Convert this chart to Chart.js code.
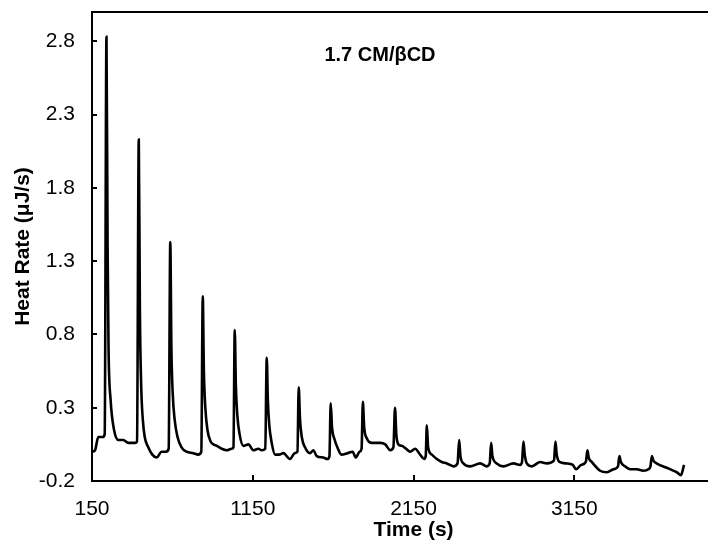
<!DOCTYPE html>
<html>
<head>
<meta charset="utf-8">
<script src="https://cdn.jsdelivr.net/npm/chart.js@4.4.1/dist/chart.umd.min.js"></script>
<style>
  html, body { margin: 0; padding: 0; background: #fff; overflow: hidden; }
  #wrap { width: 708px; height: 546px; overflow: hidden; }
</style>
</head>
<body>
<div id="wrap"><canvas id="myChart" width="740" height="546"></canvas></div>
<script>
const chart_title = '1.7 CM/βCD';

const time_s = [
  153, 169, 189, 217, 229, 240, 247, 253, 266, 287, 314, 345, 376, 418, 430,
  441, 448, 456, 466, 478, 500, 525, 552, 583, 610, 627,
  637, 644, 652, 664, 682, 707, 738, 780, 810, 830,
  839, 846, 855, 868, 888, 905, 926, 957, 988, 1019, 1030,
  1038, 1045, 1054, 1068, 1092, 1123, 1154, 1185, 1206, 1228,
  1237, 1244, 1253, 1268, 1289, 1315, 1340, 1381, 1412, 1428,
  1436, 1444, 1455, 1475, 1506, 1527, 1548, 1589, 1614, 1627,
  1635, 1643, 1660, 1680, 1701, 1740, 1772, 1790, 1815, 1827,
  1835, 1843, 1860, 1891, 1943, 1974, 2005, 2025,
  2035, 2043, 2056, 2077, 2104, 2129, 2160, 2191, 2216, 2226,
  2233, 2241, 2264, 2295, 2326, 2357, 2399, 2424,
  2434, 2442, 2461, 2502, 2565, 2606, 2624,
  2633, 2641, 2668, 2709, 2772, 2813, 2825,
  2834, 2842, 2855, 2886, 2938, 2979, 3024,
  3033, 3041, 3058, 3100, 3141, 3162, 3193, 3222,
  3232, 3240, 3259, 3311, 3353, 3394, 3422,
  3431, 3440, 3466, 3497, 3539, 3580, 3611, 3624,
  3633, 3642, 3662, 3725, 3787, 3814, 3833
];

const heat_rate = [
  0.00, 0.01, 0.10, 0.10, 0.12, 2.83, 1.40, 0.70, 0.35, 0.15, 0.08, 0.08, 0.06, 0.06, 0.07,
  2.13, 0.95, 0.45, 0.22, 0.10, 0.03, -0.02, -0.04, 0.00, 0.00, 0.02,
  1.43, 0.70, 0.40, 0.22, 0.10, 0.03, 0.00, -0.01, -0.02, 0.00,
  1.06, 0.55, 0.30, 0.15, 0.07, 0.05, 0.04, 0.02, 0.01, 0.02, 0.03,
  0.83, 0.45, 0.25, 0.12, 0.04, 0.05, 0.01, 0.02, 0.01, 0.02,
  0.64, 0.35, 0.18, 0.06, -0.02, -0.02, -0.01, -0.05, -0.01, 0.00,
  0.44, 0.22, 0.10, 0.03, -0.01, 0.01, -0.03, -0.04, -0.05, -0.03,
  0.33, 0.17, 0.08, 0.02, -0.02, -0.01, 0.00, -0.04, 0.00, 0.02,
  0.34, 0.17, 0.09, 0.06, 0.06, 0.05, 0.01, 0.03,
  0.30, 0.12, 0.05, 0.04, 0.02, 0.00, 0.02, -0.02, -0.05, -0.03,
  0.18, 0.03, -0.02, -0.05, -0.07, -0.08, -0.10, -0.08,
  0.08, -0.03, -0.08, -0.10, -0.08, -0.10, -0.08,
  0.06, -0.03, -0.08, -0.10, -0.08, -0.09, -0.07,
  0.07, -0.02, -0.08, -0.10, -0.07, -0.08, -0.06,
  0.07, -0.02, -0.07, -0.08, -0.09, -0.12, -0.09, -0.07,
  0.01, -0.04, -0.07, -0.13, -0.14, -0.12, -0.10,
  -0.03, -0.07, -0.10, -0.12, -0.12, -0.13, -0.12, -0.10,
  -0.03, -0.06, -0.08, -0.11, -0.14, -0.16, -0.09
];

const x_ticks = [150, 1150, 2150, 3150, 4150];
const y_ticks = [-0.2, 0.3, 0.8, 1.3, 1.8, 2.3, 2.8];

const font_family = '"Liberation Sans", Arial, sans-serif';

let context = document.getElementById('myChart');

const points = time_s.map((t, i) => ({ x: t, y: heat_rate[i] }));

// frame top edge, inner tick marks and the caption
const frame_plugin = {
    id: 'frame',
    afterDraw(chart) {
        const ctx = chart.ctx;
        const area = chart.chartArea;
        const xs = chart.scales.x;
        const ys = chart.scales.y;
        ctx.save();
        ctx.strokeStyle = '#000';
        ctx.lineWidth = 2;
        ctx.beginPath();
        ctx.moveTo(area.left - 1, area.top);
        ctx.lineTo(area.right, area.top);
        ctx.lineTo(area.right, area.bottom);
        ctx.stroke();

        ctx.beginPath();
        x_ticks.forEach(v => {
            const px = Math.round(xs.getPixelForValue(v));
            ctx.moveTo(px, area.bottom);
            ctx.lineTo(px, area.bottom - 6);
        });
        y_ticks.forEach(v => {
            const py = Math.round(ys.getPixelForValue(v));
            ctx.moveTo(area.left, py);
            ctx.lineTo(area.left + 5, py);
        });
        ctx.stroke();

        ctx.fillStyle = '#000';
        ctx.font = 'bold 20px ' + font_family;
        ctx.textAlign = 'center';
        ctx.textBaseline = 'middle';
        ctx.fillText(chart_title, 380, 55);
        ctx.restore();
    }
};

const options = {
    responsive: false,
    animation: { duration: 0 },
    layout: {
        padding: { top: 12, right: 5, left: 0, bottom: 0 }
    },
    scales: {
        x: {
            type: 'linear',
            min: 150,
            max: 4150,
            afterBuildTicks: s => { s.ticks = x_ticks.map(v => ({ value: v })); },
            afterFit: s => {
                s.height = 65;
                s.paddingLeft = 0;
                s.paddingRight = 0;
            },
            grid: { display: false, drawTicks: false },
            border: { display: true, color: '#000', width: 2 },
            ticks: {
                color: '#000',
                padding: 16,
                maxRotation: 0,
                callback: v => String(v),
                font: { family: font_family, size: 21 }
            },
            title: {
                display: true,
                text: 'Time (s)',
                color: '#000',
                padding: { top: 0, bottom: 3 },
                font: { family: font_family, size: 21, weight: 'bold' }
            }
        },
        y: {
            min: -0.2,
            max: 3.0,
            afterBuildTicks: s => { s.ticks = y_ticks.map(v => ({ value: v })); },
            afterFit: s => {
                s.width = 92;
                s.paddingTop = 0;
                s.paddingBottom = 0;
            },
            grid: { display: false, drawTicks: false },
            border: { display: true, color: '#000', width: 2 },
            ticks: {
                color: '#000',
                padding: 17,
                callback: v => v.toFixed(1),
                font: { family: font_family, size: 21 }
            },
            title: {
                display: true,
                text: 'Heat Rate (μJ/s)',
                color: '#000',
                padding: { top: 11, bottom: 0 },
                font: { family: font_family, size: 21, weight: 'bold' }
            }
        }
    },
    plugins: {
        legend: { display: false },
        tooltip: { enabled: false }
    }
};

const config = {
    type: 'line',
    data: {
        datasets: [{
            label: 'Heat Rate',
            data: points,
            borderColor: '#000',
            borderWidth: 2.6,
            pointRadius: 0,
            cubicInterpolationMode: 'monotone',
            fill: false
        }]
    },
    options: options,
    plugins: [frame_plugin]
};

const chart = new Chart(context, config);
</script>
</body>
</html>
